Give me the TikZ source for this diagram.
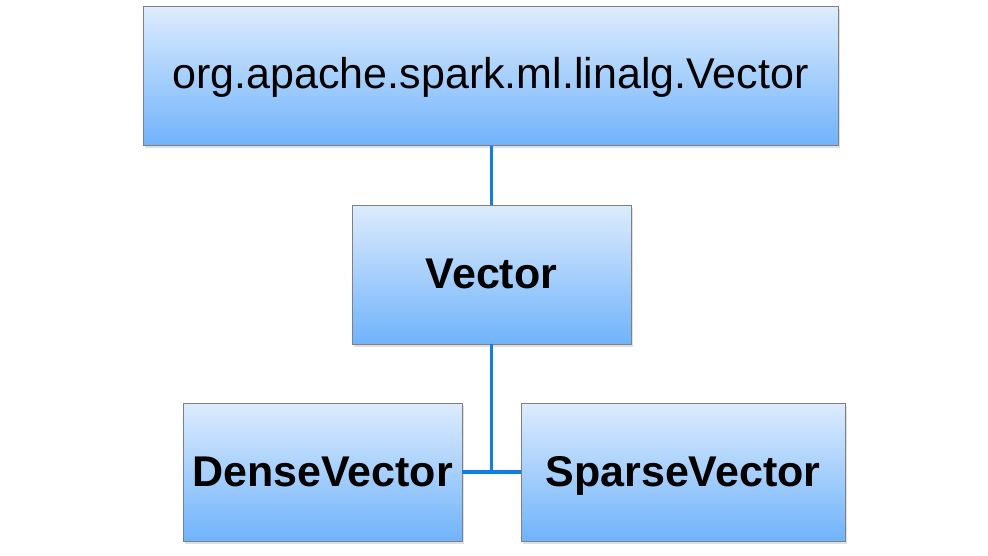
\documentclass[tikz,border=0pt]{standalone}
\usepackage{fontspec}
\setmainfont{Liberation Sans}
\usetikzlibrary{shadows}

\definecolor{boxtop}{RGB}{221,236,253}
\definecolor{boxbottom}{RGB}{112,179,251}
\definecolor{linkblue}{RGB}{16,128,222}
\definecolor{boxedge}{RGB}{128,128,128}

\begin{document}
\begin{tikzpicture}[
  x=1pt,y=-1pt,
  font=\fontsize{43}{50}\selectfont,
  classbox/.style={draw=boxedge,line width=1pt,top color=boxtop,bottom color=boxbottom,
    inner sep=0pt,outer sep=0pt,align=center,text height=31pt,text depth=3pt,
    drop shadow={shadow xshift=1.5pt,shadow yshift=-2.5pt,opacity=0.25}},
  boldbox/.style={classbox,font=\fontsize{43}{50}\selectfont\bfseries},
  link/.style={draw=linkblue,line width=3.2pt}
]
\useasboundingbox (0,0) rectangle (988,555);

% ===== Classes =====
\node[classbox,text depth=7pt,minimum width=695pt,minimum height=139pt] (base) at (490.5,76) {org.apache.spark.ml.linalg.Vector};
\node[boldbox,minimum width=279pt,minimum height=139pt] (vec) at (491.5,274.5) {Vector};
\node[boldbox,minimum width=279pt,minimum height=138pt] (dense) at (322.5,472) {DenseVector};
\node[boldbox,minimum width=324pt,minimum height=138pt] (sparse) at (683,472) {SparseVector};

% ===== Links =====
\coordinate (join) at (vec.south |- dense.east);
\draw[link] (vec.north |- base.south) -- (vec.north);
\draw[link] (vec.south) -- (join);
\draw[link] (dense.east) -- (sparse.west);

\end{tikzpicture}
\end{document}
